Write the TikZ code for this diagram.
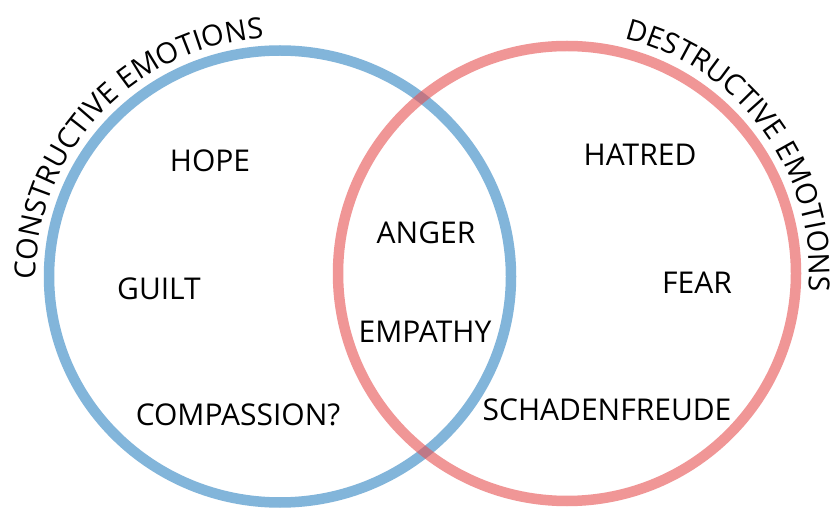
\documentclass[tikz,border=0pt]{standalone}
\usepackage{fontspec}
\setmainfont{Open Sans}
\usetikzlibrary{decorations.text}
\definecolor{venblue}{RGB}{130,181,218}
\definecolor{venred}{RGB}{230,80,80}
\tikzset{
  ring/.style={line width=10.5pt},
  lbl/.style={inner sep=0pt, font=\fontsize{30}{36}\selectfont, text=black},
}
\begin{document}
\begin{tikzpicture}[x=1pt,y=1pt]
\useasboundingbox (0,0) rectangle (832,509);
\fill[white] (0,0) rectangle (832,509);
\coordinate (bc) at (280,232.5);
\coordinate (rc) at (567,235.5);
% circles
\draw[ring, venblue] (bc) ellipse [x radius=231, y radius=226];
\draw[ring, venred, draw opacity=0.6] (rc) ellipse [x radius=229, y radius=227.5];
% curved titles
\path[decorate, decoration={text along path, text align=center,
  text={|\fontsize{29}{30}\selectfont|CONSTRUCTIVE EMOTIONS}}]
  (bc) ++(207.5:244 and 239) arc[start angle=207.5, end angle=67.5, x radius=244, y radius=239];
\path[decorate, decoration={text along path, text align=center,
  text={|\fontsize{29}{30}\selectfont|DESTRUCTIVE EMOTIONS}}]
  (rc) ++(106:242.5 and 242) arc[start angle=106, end angle=-34, x radius=242.5, y radius=242];
% labels
\node[lbl] (hope) at (210,348) {HOPE};
\node[lbl] (guilt) at (159,220.5) {GUILT};
\node[lbl] (comp) at (238,94) {COMPASSION?};
\node[lbl] (anger) at (426,276.5) {ANGER};
\node[lbl] (emp) at (425,177.5) {EMPATHY};
\node[lbl] (hatred) at (640,354) {HATRED};
\node[lbl] (fear) at (697,226.5) {FEAR};
\node[lbl] (schad) at (607,99) {SCHADENFREUDE};
\end{tikzpicture}
\end{document}
